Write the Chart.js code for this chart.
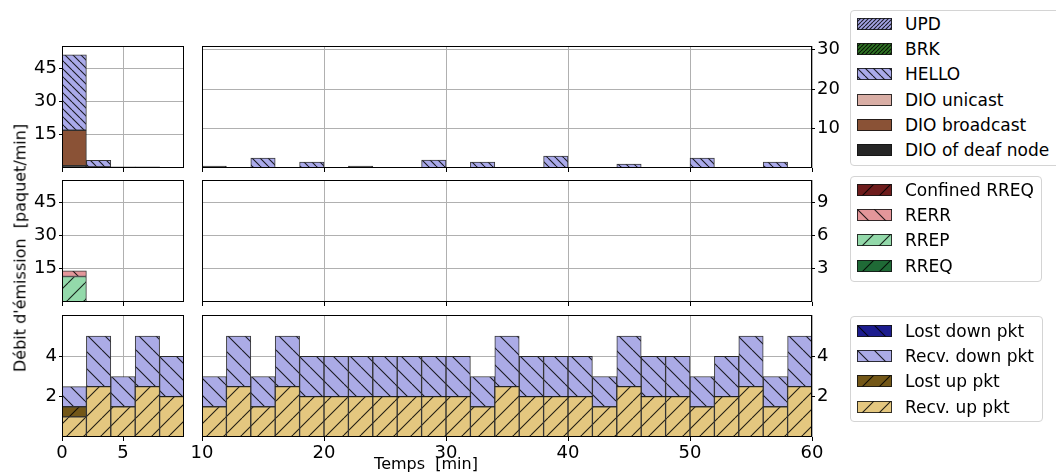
<!DOCTYPE html>
<html>
<head>
<meta charset="utf-8">
<script src="https://cdn.jsdelivr.net/npm/chart.js@4.4.1/dist/chart.umd.min.js"></script>
<style>
  body { margin: 0; background: #fff; width: 1056px; height: 474px; position: relative; overflow: hidden; font-family: 'DejaVu Sans', sans-serif; }
  canvas.panel { position: absolute; }
  .legend { position: absolute; border: 1px solid #d4d4d4; border-radius: 4px; background: #fff; box-sizing: border-box; }
  .legend .row { position: absolute; left: 0; height: 20px; line-height: 20px; font-size: 17px; white-space: nowrap; color: #000; }
  .legend .row canvas { position: absolute; left: 6px; top: 4px; }
  .legend .row span { position: absolute; left: 54px; top: 0; }
  .axlabel { position: absolute; font-size: 16px; white-space: pre; color: #000; }
</style>
</head>
<body>
<canvas class="panel" id="topL"></canvas>
<canvas class="panel" id="topR"></canvas>
<canvas class="panel" id="midL"></canvas>
<canvas class="panel" id="midR"></canvas>
<canvas class="panel" id="botL"></canvas>
<canvas class="panel" id="botR"></canvas>
<div class="axlabel" id="ylab" style="left:20px;top:248px;transform:translate(-50%,-50%) rotate(-90deg);">Débit d'émission  [paquet/min]</div>
<div class="axlabel" id="xlab" style="left:426px;top:463px;transform:translate(-50%,-50%);">Temps  [min]</div>
<div class="legend" id="legTop" style="left:850px;top:10px;width:212px;height:156px;"></div>
<div class="legend" id="legMid" style="left:850px;top:176px;width:192px;height:106px;"></div>
<div class="legend" id="legBot" style="left:850px;top:316px;width:193px;height:106px;"></div>
<script>
// centres of the 2-minute bins
const leftBins = [1, 3, 5, 7, 9];
const rightBins = [11, 13, 15, 17, 19, 21, 23, 25, 27, 29, 31, 33, 35, 37, 39, 41, 43, 45, 47, 49, 51, 53, 55, 57, 59];

// tick labels
const leftXTicks = [0, 5];
const rightXTicks = [10, 20, 30, 40, 50, 60];
const ctrlLeftYTicks = [15, 30, 45];
const topRightYTicks = [10, 20, 30];
const midRightYTicks = [3, 6, 9];
const pktYTicks = [2, 4];

// top row : DIO / HELLO / BRK / UPD (packets per min)
const deafL = [1, 0.5, 0.5, 0.5, 0];
const dioBcastL = [16, 0, 0, 0, 0];
const dioUniL = [0, 0, 0, 0, 0];
const helloL = [34, 3, 0, 0, 0];
const brkL = [0, 0, 0, 0, 0];
const updL = [0, 0, 0, 0, 0];

const deafR = [0.5, 0, 0, 0, 0, 0, 0.5, 0, 0, 0, 0, 0, 0, 0, 0, 0, 0, 0, 0, 0, 0, 0, 0, 0, 0];
const dioBcastR = [0, 0, 0, 0, 0, 0, 0, 0, 0, 0, 0, 0, 0, 0, 0, 0, 0, 0, 0, 0, 0, 0, 0, 0, 0];
const dioUniR = [0, 0, 0, 0, 0, 0, 0, 0, 0, 0, 0, 0, 0, 0, 0, 0, 0, 0, 0, 0, 0, 0, 0, 0, 0];
const helloR = [0, 0, 2.5, 0, 1.5, 0, 0, 0, 0, 2, 0, 1.5, 0, 0, 3, 0, 0, 1, 0, 0, 2.5, 0, 0, 1.5, 0];
const brkR = [0, 0, 0, 0, 0, 0, 0, 0, 0, 0, 0, 0, 0, 0, 0, 0, 0, 0, 0, 0, 0, 0, 0, 0, 0];
const updR = [0, 0, 0, 0, 0, 0, 0, 0, 0, 0, 0, 0, 0, 0, 0, 0, 0, 0, 0, 0, 0, 0, 0, 0, 0];

// middle row : route discovery
const rreqL = [0, 0, 0, 0, 0];
const rrepL = [11.5, 0, 0, 0, 0];
const rerrL = [2.5, 0, 0, 0, 0];
const confRreqL = [0, 0, 0, 0, 0];

const rreqR = [0, 0, 0, 0, 0, 0, 0, 0, 0, 0, 0, 0, 0, 0, 0, 0, 0, 0, 0, 0, 0, 0, 0, 0, 0];
const rrepR = [0, 0, 0, 0, 0, 0, 0, 0, 0, 0, 0, 0, 0, 0, 0, 0, 0, 0, 0, 0, 0, 0, 0, 0, 0];
const rerrR = [0, 0, 0, 0, 0, 0, 0, 0, 0, 0, 0, 0, 0, 0, 0, 0, 0, 0, 0, 0, 0, 0, 0, 0, 0];
const confRreqR = [0, 0, 0, 0, 0, 0, 0, 0, 0, 0, 0, 0, 0, 0, 0, 0, 0, 0, 0, 0, 0, 0, 0, 0, 0];

// bottom row : data packets
const recvUpL = [1, 2.5, 1.5, 2.5, 2];
const lostUpL = [0.5, 0, 0, 0, 0];
const recvDownL = [1, 2.5, 1.5, 2.5, 2];
const lostDownL = [0, 0, 0, 0, 0];

const recvUpR = [1.5, 2.5, 1.5, 2.5, 2, 2, 2, 2, 2, 2, 2, 1.5, 2.5, 2, 2, 2, 1.5, 2.5, 2, 2, 1.5, 2, 2.5, 1.5, 2.5];
const lostUpR = [0, 0, 0, 0, 0, 0, 0, 0, 0, 0, 0, 0, 0, 0, 0, 0, 0, 0, 0, 0, 0, 0, 0, 0, 0];
const recvDownR = [1.5, 2.5, 1.5, 2.5, 2, 2, 2, 2, 2, 2, 2, 1.5, 2.5, 2, 2, 2, 1.5, 2.5, 2, 2, 1.5, 2, 2.5, 1.5, 2.5];
const lostDownR = [0, 0, 0, 0, 0, 0, 0, 0, 0, 0, 0, 0, 0, 0, 0, 0, 0, 0, 0, 0, 0, 0, 0, 0, 0];

// look of each series (fill colour, hatch direction, hatch spacing in px)
const styles = {
  upd:      { label: 'UPD',              color: '#a4a4e4', hatch: '/',  gap: 4 },
  brk:      { label: 'BRK',              color: '#2f7424', hatch: '/',  gap: 4 },
  hello:    { label: 'HELLO',            color: '#aaaaea', hatch: '\\', gap: 8 },
  dioUni:   { label: 'DIO unicast',      color: '#d9aea5', hatch: null, gap: 0 },
  dioBcast: { label: 'DIO broadcast',    color: '#8a5236', hatch: null, gap: 0 },
  deaf:     { label: 'DIO of deaf node', color: '#262626', hatch: null, gap: 0 },
  conf:     { label: 'Confined RREQ',    color: '#6e1c1c', hatch: '/',  gap: 17 },
  rerr:     { label: 'RERR',             color: '#e4969a', hatch: '\\', gap: 17 },
  rrep:     { label: 'RREP',             color: '#93d9aa', hatch: '/',  gap: 17 },
  rreq:     { label: 'RREQ',             color: '#1f6a36', hatch: '/',  gap: 17 },
  lostDown: { label: 'Lost down pkt',    color: '#1c1c8e', hatch: '\\', gap: 17 },
  recvDown: { label: 'Recv. down pkt',   color: '#ababe6', hatch: '\\', gap: 17 },
  lostUp:   { label: 'Lost up pkt',      color: '#735717', hatch: '/',  gap: 17 },
  recvUp:   { label: 'Recv. up pkt',     color: '#e4c77f', hatch: '/',  gap: 17 }
};

Chart.defaults.font.family = "'DejaVu Sans', sans-serif";
Chart.defaults.color = '#000';

function hatchFill(ctx, st) {
  if (!st.hatch) return st.color;
  const g = st.gap;
  const tile = document.createElement('canvas');
  tile.width = g; tile.height = g;
  const t = tile.getContext('2d');
  t.fillStyle = st.color;
  t.fillRect(0, 0, g, g);
  t.strokeStyle = 'rgba(0,0,0,0.85)';
  t.lineWidth = 1.1;
  t.beginPath();
  for (let k = -1; k <= 1; k++) {
    if (st.hatch === '/') { t.moveTo(k * g, g); t.lineTo(k * g + g, 0); }
    else { t.moveTo(k * g, 0); t.lineTo(k * g + g, g); }
  }
  t.stroke();
  return ctx.createPattern(tile, 'repeat');
}

// draws the four spines of each panel
const framePlugin = {
  id: 'frame',
  afterDatasetsDraw(chart) {
    const a = chart.chartArea, c = chart.ctx;
    c.save();
    c.strokeStyle = '#000';
    c.lineWidth = 1;
    c.strokeRect(Math.round(a.left) + 0.5, Math.round(a.top) + 0.5,
                 Math.round(a.right - a.left) - 1, Math.round(a.bottom - a.top) - 1);
    c.restore();
  }
};

function panel(id, box, side, xRange, xTicks, showX, yMax, yTicks, bins, series) {
  const padL = 62, padR = 44, padT = 16, padB = 34;
  const cv = document.getElementById(id);
  cv.width = box[2] + padL + padR;
  cv.height = box[3] + padT + padB;
  cv.style.left = (box[0] - padL) + 'px';
  cv.style.top = (box[1] - padT) + 'px';
  const ctx = cv.getContext('2d');

  const datasets = series.map(([key, vals]) => ({
    label: styles[key].label,
    data: vals.map((v, i) => ({ x: bins[i], y: v })),
    backgroundColor: hatchFill(ctx, styles[key]),
    borderColor: 'rgba(20,20,20,0.85)',
    borderWidth: 1,
    borderSkipped: false,
    barPercentage: 1,
    categoryPercentage: 1,
    stack: 's'
  }));

  return new Chart(ctx, {
    type: 'bar',
    data: { datasets: datasets },
    plugins: [framePlugin],
    options: {
      responsive: false,
      animation: false,
      events: [],
      layout: { padding: side === 'left'
        ? { left: 0, right: padR, top: padT, bottom: 0 }
        : { left: padL, right: 0, top: padT, bottom: 0 } },
      plugins: { legend: { display: false }, tooltip: { enabled: false } },
      scales: {
        x: {
          type: 'linear', min: xRange[0], max: xRange[1], offset: false, stacked: true,
          grid: { offset: false, color: '#b0b0b0', lineWidth: 1, tickColor: '#000', tickLength: 4 },
          border: { display: false },
          ticks: { display: showX, font: { size: 18 }, color: '#000', padding: 2, maxRotation: 0, autoSkip: false },
          afterBuildTicks: s => { s.ticks = xTicks.map(v => ({ value: v })); },
          afterFit: s => { s.height = padB; }
        },
        y: {
          type: 'linear', position: side, min: 0, max: yMax, stacked: true,
          grid: { color: '#b0b0b0', lineWidth: 1, tickColor: '#000', tickLength: 3 },
          border: { display: false },
          ticks: { font: { size: 18 }, color: '#000', padding: 2 },
          afterBuildTicks: s => { s.ticks = yTicks.map(v => ({ value: v })); },
          afterFit: s => { s.width = side === 'left' ? padL : padR; }
        }
      }
    }
  });
}

// top row
panel('topL', [62, 46, 122, 122], 'left', [0, 10], leftXTicks, false, 55, ctrlLeftYTicks, leftBins,
  [['deaf', deafL], ['dioBcast', dioBcastL], ['dioUni', dioUniL], ['hello', helloL], ['brk', brkL], ['upd', updL]]);
panel('topR', [202, 46, 610, 122], 'right', [10, 60], rightXTicks, false, 30.9, topRightYTicks, rightBins,
  [['deaf', deafR], ['dioBcast', dioBcastR], ['dioUni', dioUniR], ['hello', helloR], ['brk', brkR], ['upd', updR]]);

// middle row
panel('midL', [62, 180, 122, 122], 'left', [0, 10], leftXTicks, false, 55, ctrlLeftYTicks, leftBins,
  [['rreq', rreqL], ['rrep', rrepL], ['rerr', rerrL], ['conf', confRreqL]]);
panel('midR', [202, 180, 610, 122], 'right', [10, 60], rightXTicks, false, 11, midRightYTicks, rightBins,
  [['rreq', rreqR], ['rrep', rrepR], ['rerr', rerrR], ['conf', confRreqR]]);

// bottom row
panel('botL', [62, 315, 122, 122], 'left', [0, 10], leftXTicks, true, 6.05, pktYTicks, leftBins,
  [['recvUp', recvUpL], ['lostUp', lostUpL], ['recvDown', recvDownL], ['lostDown', lostDownL]]);
panel('botR', [202, 315, 610, 122], 'right', [10, 60], rightXTicks, true, 6.05, pktYTicks, rightBins,
  [['recvUp', recvUpR], ['lostUp', lostUpR], ['recvDown', recvDownR], ['lostDown', lostDownR]]);

// legends
function legend(id, keys, firstRow) {
  const box = document.getElementById(id);
  keys.forEach((key, i) => {
    const row = document.createElement('div');
    row.className = 'row';
    row.style.top = (firstRow + i * 25.2 - 10) + 'px';
    row.style.width = '100%';
    const sw = document.createElement('canvas');
    sw.width = 35; sw.height = 12;
    const c = sw.getContext('2d');
    c.fillStyle = hatchFill(c, styles[key]);
    c.fillRect(0, 0, 35, 12);
    c.strokeStyle = 'rgba(20,20,20,0.85)';
    c.lineWidth = 1;
    c.strokeRect(0.5, 0.5, 34, 11);
    const tx = document.createElement('span');
    tx.textContent = styles[key].label;
    row.appendChild(sw);
    row.appendChild(tx);
    box.appendChild(row);
  });
}
legend('legTop', ['upd', 'brk', 'hello', 'dioUni', 'dioBcast', 'deaf'], 13);
legend('legMid', ['conf', 'rerr', 'rrep', 'rreq'], 13);
legend('legBot', ['lostDown', 'recvDown', 'lostUp', 'recvUp'], 14);
</script>
</body>
</html>
